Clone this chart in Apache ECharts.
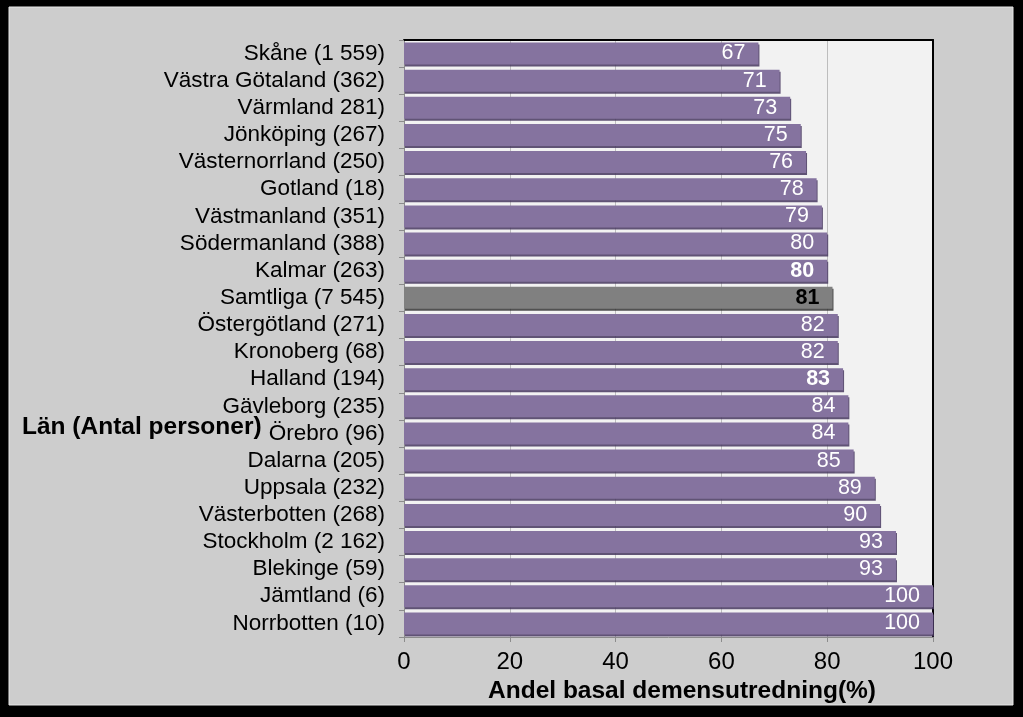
<!DOCTYPE html>
<html>
<head>
<meta charset="utf-8">
<script src="https://cdn.jsdelivr.net/npm/echarts@6/dist/echarts.min.js"></script>
<style>
html,body{margin:0;padding:0;background:#000;}
#chart{width:1023px;height:717px;}
</style>
</head>
<body>
<div id="chart"></div>
<script>
const categories = [
  'Skåne (1 559)', 'Västra Götaland (362)', 'Värmland 281)', 'Jönköping (267)',
  'Västernorrland (250)', 'Gotland (18)', 'Västmanland (351)', 'Södermanland (388)',
  'Kalmar (263)', 'Samtliga (7 545)', 'Östergötland (271)', 'Kronoberg (68)',
  'Halland (194)', 'Gävleborg (235)', 'Örebro (96)', 'Dalarna (205)',
  'Uppsala (232)', 'Västerbotten (268)', 'Stockholm (2 162)', 'Blekinge (59)',
  'Jämtland (6)', 'Norrbotten (10)'
];
const values = [67, 71, 73, 75, 76, 78, 79, 80, 80, 81, 82, 82, 83, 84, 84, 85, 89, 90, 93, 93, 100, 100];
const xTicks = [0, 20, 40, 60, 80, 100];
const totalCategory = 'Samtliga (7 545)';
const boldCategories = ['Kalmar (263)', 'Halland (194)'];
const xAxisTitle = 'Andel basal demensutredning(%)';
const yAxisTitle = 'Län (Antal personer)';

const FONT = "'Liberation Sans', Arial, sans-serif";
const seriesData = categories.map((c, i) => {
  const item = { value: values[i] };
  if (c === totalCategory) {
    item.itemStyle = { color: '#808080', shadowColor: 'rgba(40,40,40,0.8)' };
    item.label = { color: '#000', fontWeight: 'bold' };
  } else if (boldCategories.includes(c)) {
    item.label = { fontWeight: 'bold' };
  }
  return item;
});

const chart = echarts.init(document.getElementById('chart'));
chart.setOption({
  backgroundColor: '#000',
  animation: false,
  graphic: [
    { type: 'rect', z: -10, shape: { x: 9, y: 7, width: 1004, height: 698 },
      style: { fill: '#cdcdcd', stroke: '#e6e6e6', lineWidth: 1 } },
    { type: 'text', left: 22, top: 415,
      style: { text: yAxisTitle, font: "bold 24.5px 'Liberation Sans', Arial, sans-serif", fill: '#000' } }
  ],
  grid: { left: 404, right: 90, top: 40, bottom: 80, show: true, backgroundColor: '#f2f2f2', borderWidth: 0 },
  xAxis: [{
    type: 'value', min: 0, max: 100, interval: 20,
    name: xAxisTitle, nameLocation: 'middle', nameGap: 39,
    nameTextStyle: { fontFamily: FONT, fontSize: 24.5, fontWeight: 'bold', color: '#000', padding: [0, 0, 0, 27] },
    axisLine: { show: true, lineStyle: { color: '#8c8c8c', width: 1 } },
    axisTick: { show: true, length: 5, lineStyle: { color: '#8c8c8c' } },
    axisLabel: { fontFamily: FONT, fontSize: 24, color: '#000', margin: 13,
      formatter: v => xTicks.includes(v) ? String(v) : '' },
    splitLine: { show: true, lineStyle: { color: '#bdbdbd', width: 1 } }
  }, {
    type: 'value', min: 0, max: 100, position: 'top',
    axisLine: { show: true, onZero: false, lineStyle: { color: '#000', width: 2 } },
    axisTick: { show: false }, axisLabel: { show: false }, splitLine: { show: false }
  }],
  yAxis: [{
    type: 'category', data: categories, inverse: true,
    axisLine: { show: true, lineStyle: { color: '#8c8c8c', width: 1 } },
    axisTick: { show: true, length: 5, interval: 0, lineStyle: { color: '#8c8c8c' } },
    axisLabel: { fontFamily: FONT, fontSize: 22.5, color: '#000', margin: 19, interval: 0 }
  }, {
    type: 'category', data: categories, inverse: true, position: 'right',
    axisLine: { show: true, onZero: false, lineStyle: { color: '#000', width: 2 } },
    axisTick: { show: false }, axisLabel: { show: false }
  }],
  series: [{
    type: 'bar', xAxisIndex: 0, yAxisIndex: 0,
    data: seriesData,
    barCategoryGap: '19%',
    itemStyle: {
      color: '#85739f',
      shadowColor: 'rgba(70,55,95,0.85)', shadowOffsetX: 1, shadowOffsetY: 2, shadowBlur: 0
    },
    label: {
      show: true, position: 'insideRight', distance: 13,
      fontFamily: FONT, fontSize: 21.5, color: '#fff'
    }
  }]
});
</script>
</body>
</html>
